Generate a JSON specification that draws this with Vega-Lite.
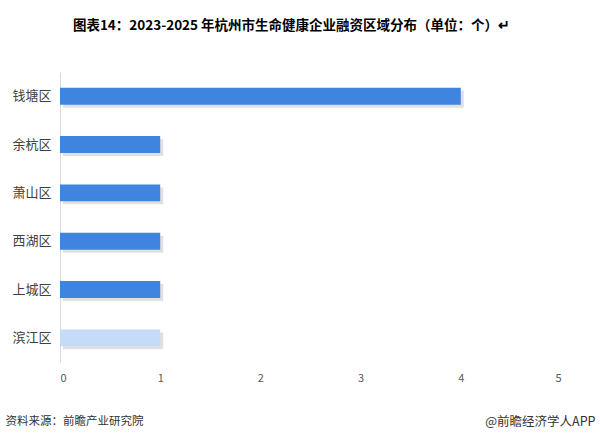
{
  "$schema": "https://vega.github.io/schema/vega-lite/v6.json",
  "width": 501,
  "height": 290,
  "autosize": {"type": "none"},
  "padding": {"left": 60, "top": 72, "right": 39, "bottom": 73},
  "background": "white",
  "config": {
    "view": {"stroke": null},
    "font": "Noto Sans CJK SC"
  },
  "title": {
    "text": "图表14：2023-2025 年杭州市生命健康企业融资区域分布（单位：个）↵",
    "fontSize": 13.5,
    "fontWeight": "bold",
    "color": "#000000",
    "anchor": "middle",
    "frame": "group",
    "dx": -19,
    "offset": 40,
    "font": "Noto Sans CJK SC"
  },
  "data": {
    "values": [
      {"region": "钱塘区", "count": 4, "kind": "main"},
      {"region": "余杭区", "count": 1, "kind": "main"},
      {"region": "萧山区", "count": 1, "kind": "main"},
      {"region": "西湖区", "count": 1, "kind": "main"},
      {"region": "上城区", "count": 1, "kind": "main"},
      {"region": "滨江区", "count": 1, "kind": "light"}
    ]
  },
  "encoding": {
    "y": {
      "field": "region",
      "type": "nominal",
      "sort": null,
      "scale": {"paddingInner": 0.65, "paddingOuter": 0.325},
      "axis": {
        "title": "@前瞻经济学人APP",
        "titleAngle": 0,
        "titleAlign": "right",
        "titleBaseline": "middle",
        "titleX": 535,
        "titleY": 349,
        "titleFontSize": 12.5,
        "titleFontWeight": "normal",
        "titleColor": "#333333",
        "ticks": false,
        "labelPadding": 9,
        "labelFontSize": 13,
        "labelColor": "#404040",
        "domainColor": "#D9D9D9",
        "domainWidth": 1
      }
    },
    "x": {
      "field": "count",
      "type": "quantitative",
      "scale": {"domain": [0, 5]},
      "axis": {
        "values": [0, 1, 2, 3, 4, 5],
        "format": "d",
        "grid": false,
        "domain": false,
        "ticks": false,
        "labelPadding": 10,
        "labelFontSize": 11,
        "labelColor": "#595959",
        "title": "资料来源：前瞻产业研究院",
        "titleAnchor": "start",
        "titleAlign": "left",
        "titleBaseline": "middle",
        "titleX": -55,
        "titleY": 59,
        "titleFontSize": 11.5,
        "titleFontWeight": "normal",
        "titleColor": "#333333"
      }
    }
  },
  "layer": [
    {
      "mark": {"type": "bar", "color": "#000000", "opacity": 0.12, "xOffset": 3, "yOffset": 3},
      "encoding": {}
    },
    {
      "mark": {"type": "bar"},
      "encoding": {
        "color": {
          "field": "kind",
          "type": "nominal",
          "scale": {"domain": ["main", "light"], "range": ["#3F85E0", "#C6DBF7"]},
          "legend": null
        }
      }
    }
  ]
}
